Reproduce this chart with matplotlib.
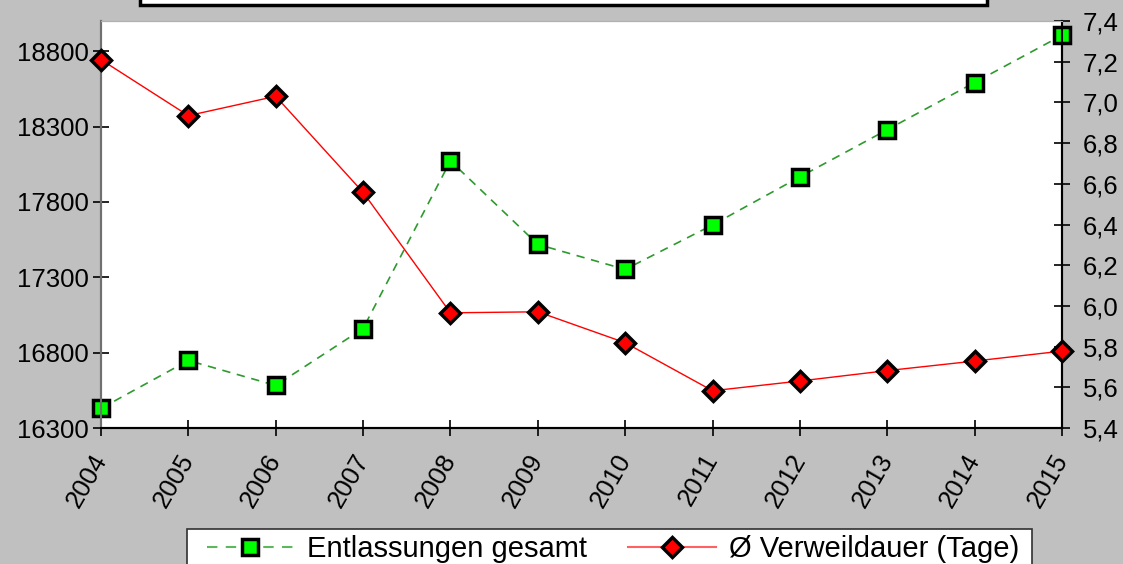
import matplotlib
matplotlib.use("Agg")
import matplotlib.pyplot as plt
from matplotlib.patches import Rectangle
from matplotlib.lines import Line2D

plt.rcParams['font.family'] = ['Liberation Sans', 'DejaVu Sans']

years = ['2004', '2005', '2006', '2007', '2008', '2009', '2010', '2011', '2012', '2013', '2014', '2015']
entlassungen = [16430, 16748, 16582, 16960, 18072, 17518, 17352, 17647, 17966, 18279, 18592, 18905]
verweildauer = [7.21, 6.935, 7.03, 6.558, 5.966, 5.971, 5.819, 5.583, 5.631, 5.682, 5.729, 5.778]
left_ticks = [16300, 16800, 17300, 17800, 18300, 18800]
right_ticks = [5.4, 5.6, 5.8, 6.0, 6.2, 6.4, 6.6, 6.8, 7.0, 7.2, 7.4]
label_a = 'Entlassungen gesamt'
label_b = 'Ø Verweildauer (Tage)'

W, H = 1123, 564
fig = plt.figure(figsize=(W / 100, H / 100), dpi=100, facecolor='#C0C0C0')
L, R, T, B = 101, 1062, 21, 428
ax = fig.add_axes([L / W, 1 - B / H, (R - L) / W, (B - T) / H])
ax.set_facecolor('white')
ax2 = ax.twinx()

x = list(range(len(years)))
ax.plot(x, entlassungen, linestyle=(0, (5, 4)), color='#2E9A2E', linewidth=1.2,
        marker='s', markersize=11, markerfacecolor='#00FF00', markeredgecolor='black',
        markeredgewidth=2.5, clip_on=False, zorder=3)
ax2.plot(x, verweildauer, linestyle='-', color='#FF0000', linewidth=1.0,
         marker='D', markersize=10, markerfacecolor='#FF0000', markeredgecolor='black',
         markeredgewidth=2.5, clip_on=False, zorder=3)

ax.set_xlim(0, len(years) - 1)
ax.set_ylim(16300, 19000)
ax.set_yticks(left_ticks)
ax.set_yticklabels([str(v) for v in left_ticks])
ax2.set_ylim(5.4, 7.4)
ax2.set_yticks(right_ticks)
ax2.set_yticklabels([f'{v:.1f}'.replace('.', ',') for v in right_ticks])

ax.set_xticks(x)
ax.set_xticklabels(years, rotation=60, ha='right', va='center', rotation_mode='anchor')

for a in (ax, ax2):
    a.tick_params(axis='both', direction='inout', length=12, width=1.2, colors='black',
                  labelsize=18.5)
ax.tick_params(axis='x', pad=14)
ax.tick_params(axis='y', pad=3)
ax2.tick_params(axis='y', pad=9)
for a in (ax, ax2):
    a.spines['top'].set_color('#B0B0B0')
    a.spines['left'].set_color('#707070')
    a.spines['left'].set_linewidth(1.5)
    a.spines['bottom'].set_color('black')
    a.spines['bottom'].set_linewidth(1.5)
    a.spines['right'].set_color('black')
    a.spines['right'].set_linewidth(1.5)

# partial title box at top (cut off)
fig.patches.append(Rectangle((140 / W, 1 - 5 / H), (987 - 140) / W, 30 / H,
                             transform=fig.transFigure, facecolor='white',
                             edgecolor='black', linewidth=2.5, zorder=5))

# legend frame (cut off at bottom edge)
fig.patches.append(Rectangle((187 / W, -10 / H), (1032 - 187) / W, (564 - 529 + 10) / H,
                             transform=fig.transFigure, facecolor='white',
                             edgecolor='#303030', linewidth=1.2, zorder=1))

handles = [
    Line2D([], [], linestyle=(0, (5, 4)), color='#5DB85D', linewidth=1.5, marker='s',
           markersize=11, markerfacecolor='#00FF00', markeredgecolor='black', markeredgewidth=2.5),
    Line2D([], [], linestyle='-', color='#FF6060', linewidth=1.5, marker='D',
           markersize=10, markerfacecolor='#FF0000', markeredgecolor='black', markeredgewidth=2.5),
]
leg = fig.legend(handles, [label_a, label_b], loc='center left',
                 bbox_to_anchor=(192 / W, 1 - 549 / H), ncol=2, fontsize=21,
                 frameon=False, borderpad=0, handlelength=3.0,
                 columnspacing=1.4, handletextpad=0.45)

fig.savefig('out.png', dpi=100, facecolor=fig.get_facecolor())
